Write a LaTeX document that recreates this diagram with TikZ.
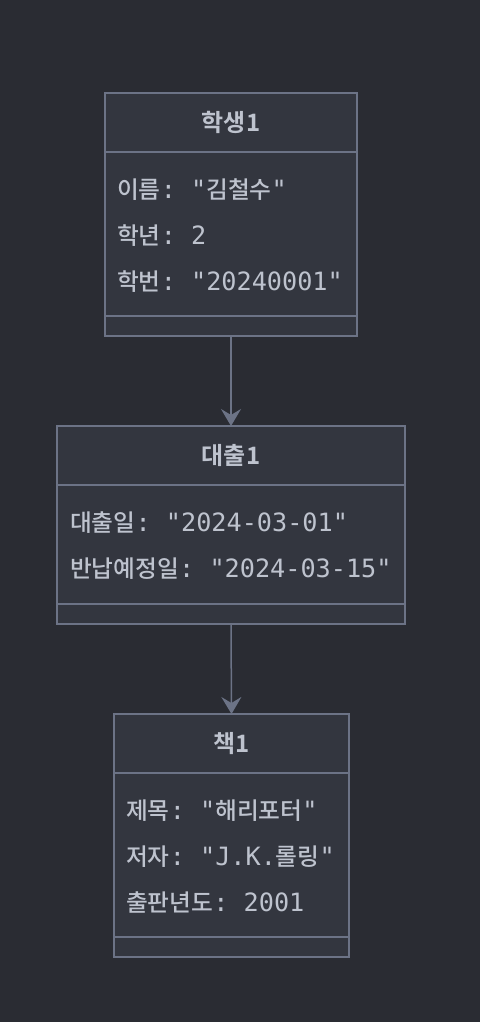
\documentclass[tikz,border=0pt]{standalone}
\usepackage{fontspec}
\setmonofont{DejaVu Sans Mono}
\newfontfamily\kr[Scale=0.94]{Noto Sans CJK KR Medium}
\newfontfamily\krbold{Noto Sans CJK KR Bold}
\usetikzlibrary{positioning,arrows.meta}
\definecolor{bgdark}{HTML}{2A2C33}
\definecolor{boxfill}{HTML}{33363F}
\definecolor{boxline}{HTML}{6C7386}
\definecolor{txt}{HTML}{BEC3CE}
\newcommand{\ko}[1]{{\kr #1}}

\begin{document}
\begin{tikzpicture}[
  x=1pt, y=-1pt,
  head/.style={draw=boxline, fill=boxfill, line width=1.4pt, outer sep=0pt, minimum height=59pt, inner sep=0pt, font=\krbold\fontsize{24}{28}\selectfont, text=txt},
  body/.style={draw=boxline, fill=boxfill, line width=1.4pt, outer sep=0pt, inner sep=0pt},
  foot/.style={draw=boxline, fill=boxfill, line width=1.4pt, outer sep=0pt, minimum height=20pt, inner sep=0pt},
  attr/.style={anchor=west, inner sep=0pt, text=txt, font=\ttfamily\fontsize{25.2}{29}\selectfont},
  arrow/.style={draw=boxline, line width=1.5pt, -{Stealth[length=17pt, width=20pt, inset=6pt]}}
]
\fill[bgdark] (0,0) rectangle (480,1022);
\useasboundingbox (0,0) rectangle (480,1022);

% 학생1
\node[head, minimum width=252pt] (student) at (231,122.5) {\raisebox{-1.5pt}{학생1}};
\node[body, minimum width=252pt, minimum height=164pt, below=0pt of student] (studentb) {};
\node[foot, minimum width=252pt, below=0pt of studentb] (studentf) {};
\node[attr] (s1) at (117,189.5) {\ko{이름}: "\ko{김철수}"};
\node[attr] (s2) at (117,236) {\ko{학년}: 2};
\node[attr] (s3) at (117,281.5) {\ko{학번}: "20240001"};

% 대출1
\node[head, minimum width=348pt] (loan) at (231,455.5) {\raisebox{-1.5pt}{대출1}};
\node[body, minimum width=348pt, minimum height=119pt, below=0pt of loan] (loanb) {};
\node[foot, minimum width=348pt, below=0pt of loanb] (loanf) {};
\node[attr] (l1) at (70,522.5) {\ko{대출일}: "2024-03-01"};
\node[attr] (l2) at (70,568.5) {\ko{반납예정일}: "2024-03-15"};

% 책1
\node[head, minimum width=235pt] (book) at (231.5,743.5) {\raisebox{-1.5pt}{책1}};
\node[body, minimum width=235pt, minimum height=164pt, below=0pt of book] (bookb) {};
\node[foot, minimum width=235pt, below=0pt of bookb] (bookf) {};
\node[attr] (b1) at (126,810.5) {\ko{제목}: "\ko{해리포터}"};
\node[attr] (b2) at (126,856.5) {\ko{저자}: "J.K.\ko{롤링}"};
\node[attr] (b3) at (126,902.5) {\ko{출판년도}: 2001};

\draw[arrow] (studentf.south) -- (loan.north);
\draw[arrow] (loanf.south) -- (book.north);
\end{tikzpicture}
\end{document}
